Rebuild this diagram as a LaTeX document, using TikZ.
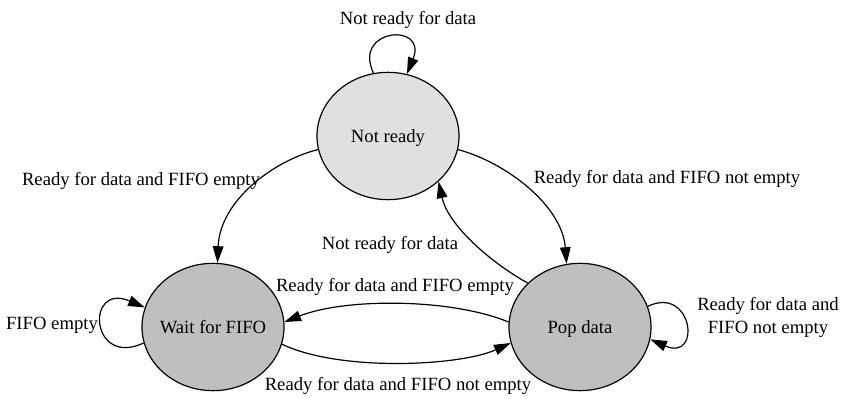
\documentclass[tikz,border=0pt]{standalone}
\usepackage{fontspec}
\setmainfont{Liberation Serif}
\usetikzlibrary{shapes.geometric,arrows.meta}
\begin{document}
\begin{tikzpicture}[x=0.75pt,y=-0.75pt,
  every node/.style={font=\fontsize{14}{17.25}\selectfont},
  state/.style={ellipse,draw,line width=0.9pt,minimum width=106.5pt,minimum height=95.5pt,inner sep=0pt},
  lbl/.style={inner sep=0pt,align=center,yshift=-1.2pt},
  edge/.style={line width=0.9pt,-{Triangle[length=12.5pt,width=8pt]}}]
\useasboundingbox (0,0) rectangle (846,399);
\node[state,fill=black!12] (nr) at (388,136) {\raisebox{-5pt}[0pt][0pt]{\makebox[0pt]{Not ready}}};
\node[state,fill=black!25] (wf) at (213,327) {\raisebox{-5pt}[0pt][0pt]{\makebox[0pt]{Wait for FIFO}}};
\node[state,fill=black!25] (pd) at (580,327) {\raisebox{-5pt}[0pt][0pt]{\makebox[0pt]{Pop data}}};
% labels
\node[lbl] (l1) at (408,18) {Not ready for data};
\node[lbl] (l2) at (141,179) {Ready for data and FIFO empty};
\node[lbl] (l3) at (667,177) {Ready for data and FIFO not empty};
\node[lbl] (l4) at (390,243) {Not ready for data};
\node[lbl] (l5) at (395,285) {Ready for data and FIFO empty};
\node[lbl] (l6) at (398,384) {Ready for data and FIFO not empty};
\node[lbl] (l7) at (52,324) {FIFO empty};
\node[lbl] (l8) at (768,316) {Ready for data and\\FIFO not empty};
% edges
\draw[edge] (nr.103) .. controls (352,28) and (428,22) .. (nr.73);
\draw[edge] (nr.191) .. controls (275,160) and (220,200) .. (wf.86);
\draw[edge] (nr.349) .. controls (505,162) and (562,205) .. (pd.102);
\draw[edge] (pd.140) .. controls (490,262) and (448,225) .. (nr.318);
\draw[edge] (pd.176) .. controls (450,298) and (345,298) .. (wf.4);
\draw[edge] (wf.346) .. controls (340,372) and (460,366) .. (pd.193);
\draw[edge] (wf.193) .. controls (90,368) and (85,282) .. (wf.164);
\draw[edge] (pd.17) .. controls (693,285) and (702,362) .. (pd.350);
\end{tikzpicture}
\end{document}
